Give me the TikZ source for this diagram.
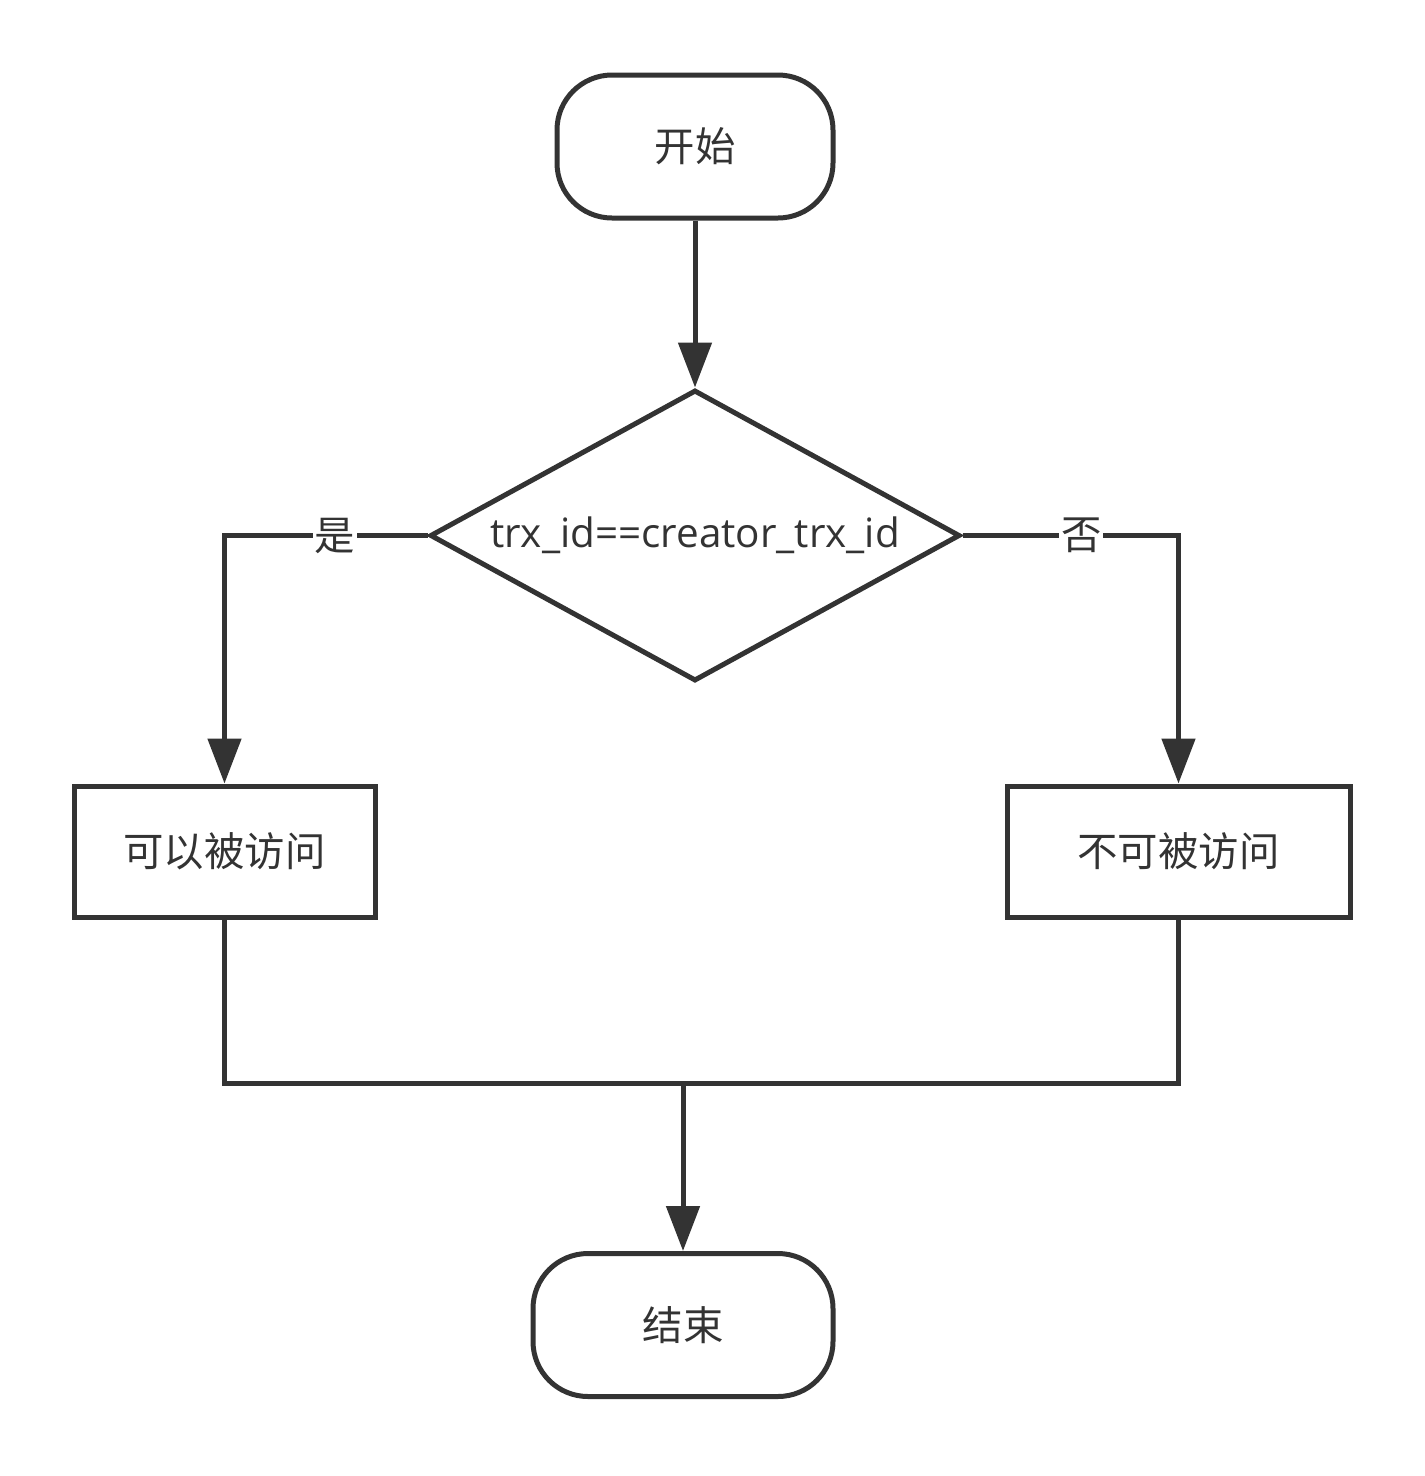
\documentclass[tikz,border=0pt]{standalone}
\usepackage{fontspec}
\setmainfont{Open Sans}
\newfontfamily\cjk{Noto Sans CJK SC}
\usetikzlibrary{shapes.geometric}
\usetikzlibrary{arrows.meta}
\usetikzlibrary{positioning}
\definecolor{inkgray}{HTML}{333333}

\begin{document}
\begin{tikzpicture}[
    every node/.style={text=inkgray, font=\fontsize{23pt}{27pt}\selectfont},
    terminal/.style={draw=inkgray, line width=0.1cm, fill=white, rounded corners=1.1cm, minimum width=5.52cm, minimum height=2.86cm},
    process/.style={draw=inkgray, line width=0.1cm, fill=white, minimum height=2.62cm},
    decision/.style={draw=inkgray, line width=0.1cm, fill=white, diamond, aspect=1.82, inner sep=0pt, minimum width=10.6cm, minimum height=5.82cm},
    link/.style={draw=inkgray, line width=0.1cm},
    flow/.style={link, -{Triangle[length=0.9cm, width=0.66cm]}},
    tag/.style={fill=white, inner sep=1pt}
]
        \useasboundingbox (0,0) rectangle (28.5,-29.52);

        \node[terminal] (start) at (13.9,-2.93) {\cjk 开始};
        \node[decision] (check) at (13.9,-10.71) {trx\_id==creator\_trx\_id};

        \node[process, minimum width=6.02cm] (yes) at (4.49,-17.03) {\cjk 可以被访问};
        \node[process, minimum width=6.86cm] (no) at (23.57,-17.03) {\cjk 不可被访问};

        \node[terminal, minimum width=6.0cm] (stop) at (13.66,-26.5) {\cjk 结束};

        \coordinate (merge) at (13.66,-21.66);

        \draw[flow] (start) -- (check);

        % both branches of the test
        \draw[flow] (check.west) -| (yes) node[pos=0.228, tag] {\cjk 是};
        \draw[flow] (check.east) -| (no) node[pos=0.275, tag] {\cjk 否};

        % join the branches again
        \draw[link] (yes) |- (merge);
        \draw[link] (no) |- (merge);
        \draw[flow] (merge) -- (stop);

\end{tikzpicture}
\end{document}
